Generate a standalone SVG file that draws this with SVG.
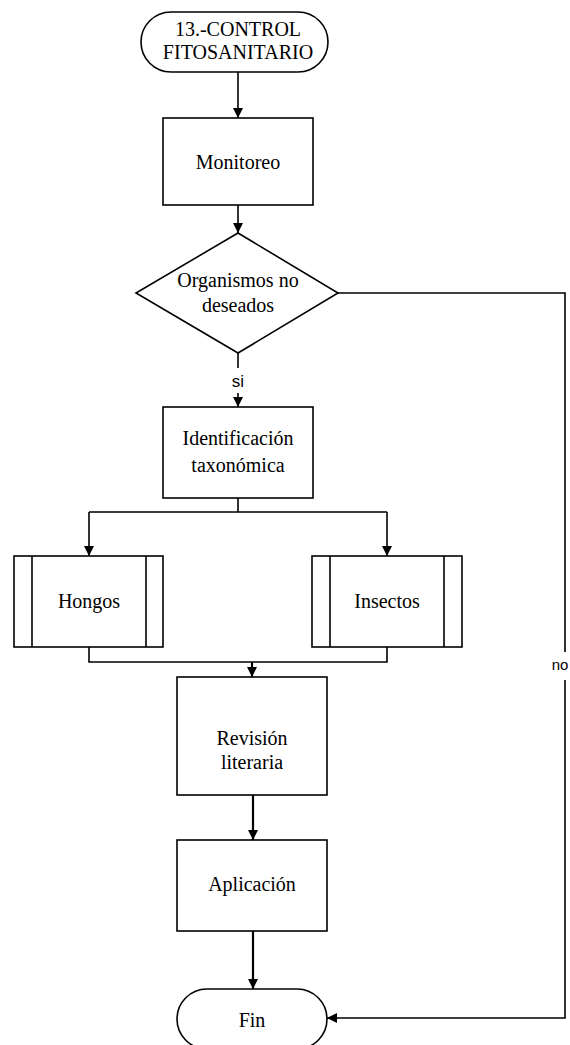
<svg xmlns="http://www.w3.org/2000/svg" width="570" height="1045" viewBox="0 0 570 1045">
<style>
.s{fill:#fff;stroke:#000;stroke-width:1.6}
.t{font-family:"Liberation Serif","Times New Roman",serif;font-size:20px;fill:#000;text-anchor:middle}
.l{font-family:"Liberation Sans",Arial,sans-serif;font-size:17px;fill:#000;text-anchor:middle}
.c{fill:none;stroke:#000;stroke-width:1.6}
.c2{fill:none;stroke:#000;stroke-width:2.2}
</style>
<defs>
<marker id="a" viewBox="0 0 10 10" refX="10" refY="5" markerWidth="10" markerHeight="10" markerUnits="userSpaceOnUse" orient="auto">
<path d="M0,0 L10,5 L0,10 z" fill="#000"/>
</marker>
</defs>
<rect width="570" height="1045" fill="#fff"/>
<g id="connectors">
<path class="c" d="M238,72 V118" marker-end="url(#a)"/>
<path class="c" d="M238,205 V233" marker-end="url(#a)"/>
<path class="c" d="M238,353 V368"/>
<path class="c" d="M238,393 V407" marker-end="url(#a)"/>
<path class="c" d="M238,498 V512 M89,512 H387"/>
<path class="c" d="M89,512 V556" marker-end="url(#a)"/>
<path class="c" d="M387,512 V556" marker-end="url(#a)"/>
<path class="c" d="M89,647 V662 H387 V647"/>
<path class="c2" d="M252,662 V677" marker-end="url(#a)"/>
<path class="c2" d="M253,795 V840" marker-end="url(#a)"/>
<path class="c2" d="M253,931 V989" marker-end="url(#a)"/>
<path class="c" d="M338,293 H565 V652"/>
<path class="c" d="M565,680 V1018 H327" marker-end="url(#a)"/>
<text class="l" x="238" y="387">si</text>
<text class="l" x="560" y="670" style="font-size:15px">no</text>
</g>
<g id="inicio">
<rect class="s" x="141" y="12" width="187" height="60" rx="30"/>
<text class="t" x="238" y="36">13.-CONTROL</text>
<text class="t" x="238" y="59">FITOSANITARIO</text>
</g>
<g id="monitoreo">
<rect class="s" x="163" y="118" width="150" height="87"/>
<text class="t" x="238" y="169">Monitoreo</text>
</g>
<g id="decision">
<polygon class="s" points="238,233 338,293 238,353 136,293"/>
<text class="t" x="238" y="287">Organismos no</text>
<text class="t" x="238" y="312">deseados</text>
</g>
<g id="identificacion">
<rect class="s" x="163" y="407" width="150" height="91"/>
<text class="t" x="238" y="445">Identificación</text>
<text class="t" x="238" y="472">taxonómica</text>
</g>
<g id="hongos">
<rect class="s" x="14" y="556" width="149" height="91"/>
<path class="c" d="M32,556 V647 M146,556 V647"/>
<text class="t" x="89" y="608">Hongos</text>
</g>
<g id="insectos">
<rect class="s" x="312" y="556" width="150" height="91"/>
<path class="c" d="M330,556 V647 M444,556 V647"/>
<text class="t" x="387" y="608">Insectos</text>
</g>
<g id="revision">
<rect class="s" x="177" y="677" width="150" height="118"/>
<text class="t" x="252" y="745">Revisión</text>
<text class="t" x="252" y="769">literaria</text>
</g>
<g id="aplicacion">
<rect class="s" x="177" y="840" width="150" height="91"/>
<text class="t" x="252" y="891">Aplicación</text>
</g>
<g id="fin">
<rect class="s" x="177" y="989" width="150" height="60" rx="30"/>
<text class="t" x="252" y="1027">Fin</text>
</g>
</svg>
